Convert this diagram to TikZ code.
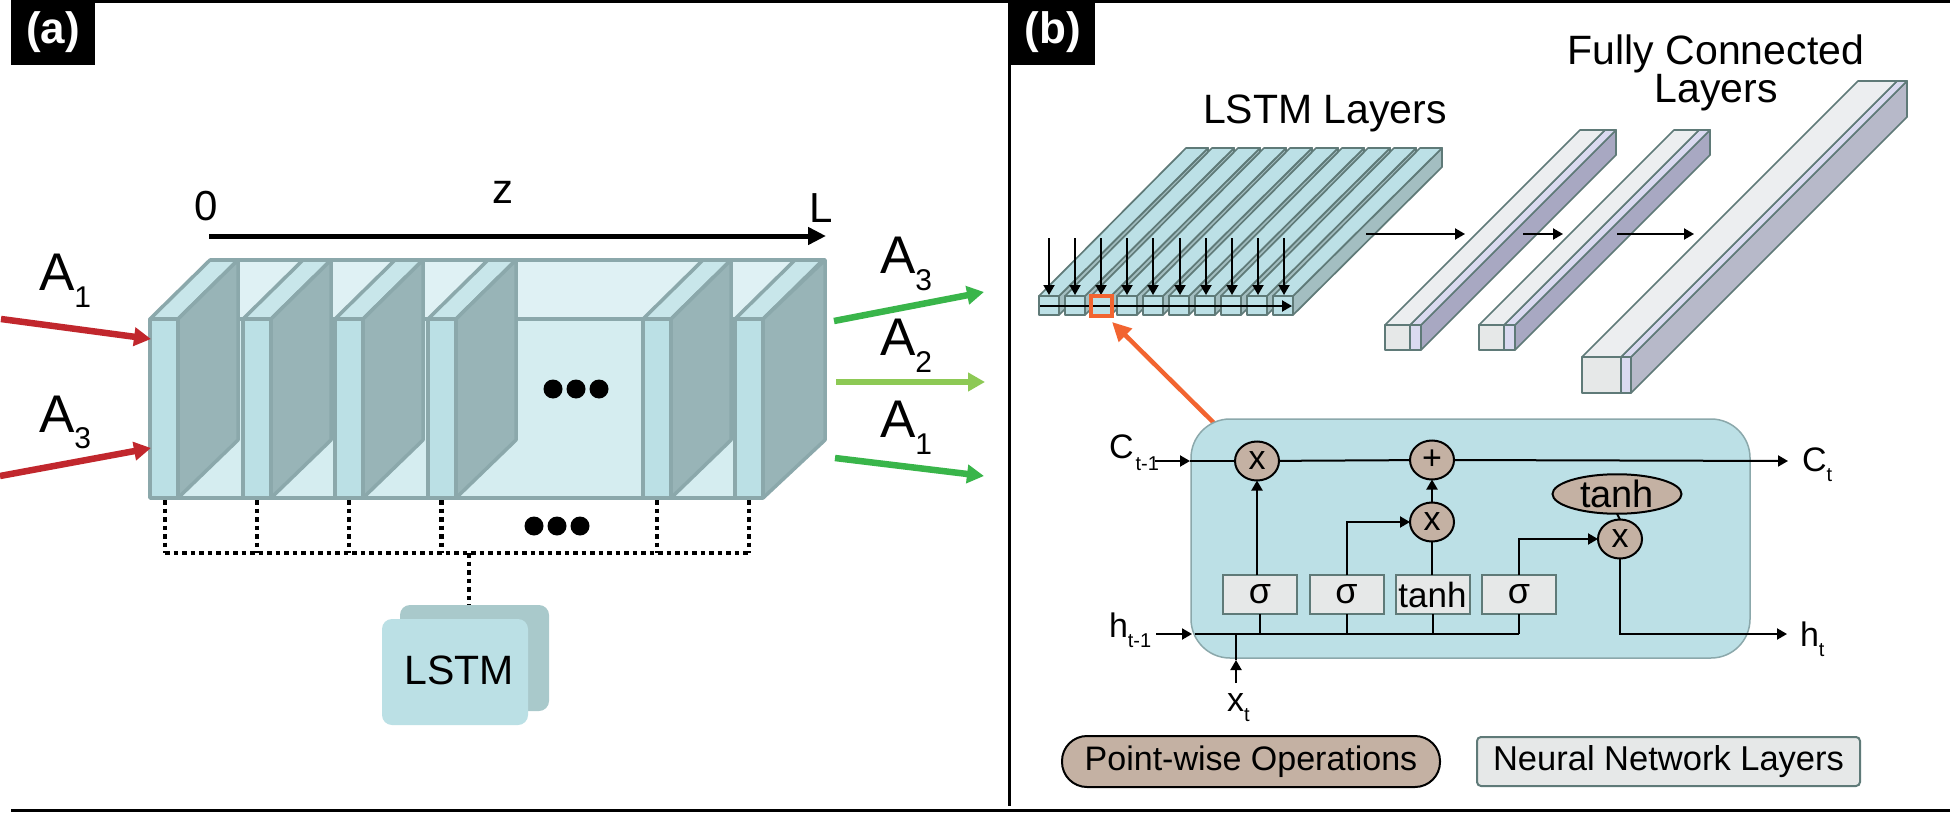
\documentclass[tikz,border=0pt]{standalone}
\usepackage{fontspec}
\setmainfont{Liberation Sans}
\usetikzlibrary{arrows.meta,shapes.geometric}
\newcommand{\fsz}[1]{\fontsize{#1}{#1}\selectfont}
\newcommand{\sublab}[5]{\fsz{#1}#2\fsz{#3}\raisebox{-#5pt}{#4}}
\definecolor{wallc}{HTML}{D5EDF0}
\definecolor{ceilc}{HTML}{DFF1F4}
\definecolor{stripc}{HTML}{BBE0E5}
\definecolor{striptop}{HTML}{C8E6EA}
\definecolor{panelc}{HTML}{98B4B7}
\definecolor{edgec}{HTML}{8BA8AB}
\definecolor{redc}{HTML}{C1272D}
\definecolor{greenc}{HTML}{39B54A}
\definecolor{lgreenc}{HTML}{8DC955}
\definecolor{blockedge}{HTML}{5F7A78}
\definecolor{blockside}{HTML}{A3BEC1}
\definecolor{beamtop}{HTML}{ECEEF0}
\definecolor{beamlav}{HTML}{DADAF0}
\definecolor{beamside}{HTML}{A8A8C2}
\definecolor{beamsideb}{HTML}{B7B9C9}
\definecolor{opc}{HTML}{C4B1A3}
\definecolor{nnc}{HTML}{E6E8E8}
\definecolor{orangec}{HTML}{F26430}
\definecolor{cellc}{HTML}{BCE0E6}
\definecolor{cardb}{HTML}{A9C9CB}
\tikzset{
  lab/.style={inner sep=0,outer sep=0,anchor=base west},
  ctext/.style={inner sep=0,outer sep=0,anchor=center},
  face/.style={draw=edgec,line width=3.5,line join=round},
  blk/.style={draw=blockedge,line width=1.7,line join=round},
  beam/.style={draw=blockedge,line width=1.7,line join=round},
  bigarrow/.style={line width=6.5,-{Triangle[length=17,width=18]}},
  thinarrow/.style={draw=black,line width=2,-{Triangle[length=10,width=11]}},
  cellline/.style={draw=black,line width=2},
  cellarrow/.style={cellline,-{Triangle[length=10,width=11]}},
  opnode/.style={ellipse,draw=black,line width=2,fill=opc,inner sep=0,outer sep=0,minimum width=44,minimum height=39},
  nnbox/.style={rectangle,draw=blockedge,line width=2,fill=nnc,inner sep=0,outer sep=0,minimum width=74,minimum height=39},
  dotline/.style={draw=black,line width=4.5,dash pattern=on 4.5 off 4},
  ell/.style={circle,fill=black,inner sep=0,minimum size=19},
  tag/.style={fill=black,text=white,font=\fsz{44}\bfseries,inner sep=0,outer sep=0,minimum width=84,minimum height=65}
}
\begin{document}
\begin{tikzpicture}[x=1pt,y=-1pt]
\useasboundingbox (0,0) rectangle (1950,813);
\fill[white] (0,0) rectangle (1950,813);
% frame
\coordinate (tl) at (11,1.5); \coordinate (tr) at (1950,1.5);
\coordinate (bl) at (11,810); \coordinate (br) at (1950,810);
\coordinate (dt) at (1009,0); \coordinate (db) at (1009,806);
\draw[line width=3] (tl)--(tr);
\draw[line width=3] (bl)--(br);
\draw[line width=3] (dt)--(db);
\node[tag] (taga) at (53,32.5) {(a)};
\node[tag] (tagb) at (1053,32.5) {(b)};
% ---------- panel a: waveguide
\fill[ceilc] (150,319)--(210,260)--(825,260)--(763,319)--cycle;
\fill[wallc] (150,319) rectangle (763,498);
\draw[face] (210,260)--(825,260);
\foreach \x in {150,243,335,428,643,735}{
  \filldraw[face,fill=striptop] (\x,319)--({\x+60},260)--({\x+88},260)--({\x+28},319)--cycle;
}
\draw[face] (150,319)--(763,319);
\foreach \x in {150,243,335,428,643}{
  \filldraw[face,fill=panelc] ({\x+28},319)--({\x+88},260)--({\x+88},440)--({\x+28},498)--cycle;
  \filldraw[face,fill=stripc] (\x,319) rectangle ({\x+28},498);
}
\filldraw[face,fill=panelc] (763,319)--(825,260)--(825,440)--(763,498)--cycle;
\filldraw[face,fill=stripc] (735,319) rectangle (763,498);
\draw[face] (150,498)--(763,498);
\foreach \x/\n in {553/a,576/b,599/c}{\node[ell] (up\n) at (\x,389) {};}
\foreach \x/\n in {534/a,557/b,580/c}{\node[ell] (lo\n) at (\x,526) {};}
% dotted bus
\foreach \x/\n in {165/a,257/b,349/c,441.5/d,657/e,749/f}{
  \coordinate (bt\n) at (\x,500); \coordinate (bb\n) at (\x,553);
  \draw[dotline] (bt\n)--(bb\n);
}
\draw[dotline] (bba)--(bbf);
% LSTM cards
\node[fill=cardb,rounded corners=10,minimum width=149,minimum height=106,inner sep=0] (cardback) at (474.5,658) {};
\node[fill=stripc,rounded corners=10,minimum width=146,minimum height=106,inner sep=0] (card) at (455,672) {};
\node[ctext,font=\fsz{41}] (cardtext) at (459,670) {LSTM};
\coordinate (busc) at (469,553);
\draw[dotline] (busc)--(busc |- cardback.north);
% axis
\node[ctext,font=\fsz{42}] (zero) at (206,206) {0};
\node[ctext,font=\fsz{42}] (zed) at (503,192) {z};
\node[ctext,font=\fsz{42}] (ell) at (821,208) {L};
\coordinate (ax0) at (209,236); \coordinate (ax1) at (826,236);
\draw[line width=5,-{Triangle[length=18,width=17]}] (ax0)--(ax1);
% input / output arrows
\node[lab] (ia1) at (39,290) {\sublab{53}{A}{30}{1}{17}};
\node[lab] (ia3) at (39,432) {\sublab{53}{A}{30}{3}{16}};
\node[lab] (oa3) at (880,273) {\sublab{53}{A}{30}{3}{17}};
\node[lab] (oa2) at (880,355) {\sublab{53}{A}{30}{2}{17}};
\node[lab] (oa1) at (880,437) {\sublab{53}{A}{30}{1}{17}};
\coordinate (r1s) at (1,319); \coordinate (r1e) at (151,339);
\coordinate (r2s) at (0,476); \coordinate (r2e) at (151,448);
\coordinate (g1s) at (834,321); \coordinate (g1e) at (984,292);
\coordinate (g2s) at (836,382); \coordinate (g2e) at (985,382);
\coordinate (g3s) at (835,458); \coordinate (g3e) at (984,476);
\draw[bigarrow,redc] (r1s)--(r1e);
\draw[bigarrow,redc] (r2s)--(r2e);
\draw[bigarrow,greenc] (g1s)--(g1e);
\draw[bigarrow,lgreenc] (g2s)--(g2e);
\draw[bigarrow,greenc] (g3s)--(g3e);
% ---------- panel b: LSTM layers
\node[ctext,font=\fsz{41}] (lstmt) at (1325,113) {LSTM Layers};
\node[lab,font=\fsz{41},anchor=base] (fct1) at (1716,65) {Fully Connected};
\node[lab,font=\fsz{41},anchor=base] (fct2) at (1716,103) {Layers};
\foreach \x in {1039,1065,1091,1117,1143,1169,1195,1221,1247,1273}{
  \filldraw[blk,fill=blockside] ({\x+20},296)--({\x+169},148)--({\x+169},167)--({\x+20},315)--cycle;
  \filldraw[blk,fill=cellc] (\x,296)--({\x+147},148)--({\x+169},148)--({\x+20},296)--cycle;
  \filldraw[blk,fill=cellc] (\x,296) rectangle ({\x+20},315);
}
\foreach \x in {1049,1075,1101,1127,1153,1180,1206,1232,1258,1284}{
  \coordinate (dn\x) at (\x,238); \coordinate (de\x) at (\x,295);
  \draw[thinarrow] (dn\x)--(de\x);
}
\coordinate (rows) at (1040,306); \coordinate (rowe) at (1292,306);
\draw[thinarrow] (rows)--(rowe);
\node[draw=orangec,line width=3.5,minimum width=21,minimum height=20,inner sep=0,outer sep=0] (hot) at (1101.5,306) {};
% fully connected beams
\foreach \l/\m/\r/\t/\b/\d/\c in {1385/1410/1421/325/350/195/beamside,1479/1504/1515/325/350/195/beamside,1582/1621/1631/357/393/276/beamsideb}{
  \filldraw[beam,fill=\c] (\r,\t)--({\r+\d},{\t-\d})--({\r+\d},{\b-\d})--(\r,\b)--cycle;
  \filldraw[beam,fill=beamlav] (\m,\t)--({\m+\d},{\t-\d})--({\r+\d},{\t-\d})--(\r,\t)--cycle;
  \filldraw[beam,fill=beamtop] (\l,\t)--({\l+\d},{\t-\d})--({\m+\d},{\t-\d})--(\m,\t)--cycle;
  \filldraw[beam,fill=nnc] (\l,\t) rectangle (\m,\b);
  \filldraw[beam,fill=beamlav] (\m,\t) rectangle (\r,\b);
}
\coordinate (f1s) at (1366,234); \coordinate (f1e) at (1465,234);
\coordinate (f2s) at (1523,234); \coordinate (f2e) at (1563,234);
\coordinate (f3s) at (1617,234); \coordinate (f3e) at (1694,234);
\draw[thinarrow] (f1s)--(f1e);
\draw[thinarrow] (f2s)--(f2e);
\draw[thinarrow] (f3s)--(f3e);
% orange pointer
\coordinate (pt0) at (1215,424);
\coordinate (pt1) at (1112,322);
\draw[draw=orangec,line width=4.5,-{Triangle[length=19,width=18]}] (pt0)--(pt1);
% ---------- LSTM cell
\node[draw=edgec,line width=1.5,fill=cellc,rounded corners=39,minimum width=559,minimum height=239,inner sep=0,outer sep=0] (cell) at (1470.5,538.5) {};
\node[opnode,font=\fsz{34}] (x1) at (1257,461) {x};
\node[opnode,font=\fsz{34}] (pl) at (1432,460) {+};
\node[opnode,font=\fsz{34}] (x2) at (1432,522) {x};
\node[opnode,font=\fsz{34}] (x3) at (1620,539) {x};
\node[opnode,font=\fsz{38},minimum width=129,minimum height=38] (th) at (1617,494) {tanh};
\node[nnbox,font=\fsz{36}] (s1) at (1260,594.5) {σ};
\node[nnbox,font=\fsz{36}] (s2) at (1346.5,594.5) {σ};
\node[nnbox,font=\fsz{35}] (s3) at (1432.5,594.5) {tanh};
\node[nnbox,font=\fsz{36}] (s4) at (1519,594.5) {σ};
\coordinate (cin) at (1155,461); \coordinate (cine) at (1190,461);
\coordinate (cout) at (1788,461);
\coordinate (hin) at (1156,634); \coordinate (hine) at (1192,634);
\coordinate (hb0) at (1195,634); \coordinate (hb1) at (1519,634);
\coordinate (hout) at (1787,634);
\coordinate (xs) at (1236,683); \coordinate (xm) at (1236,660); \coordinate (xe) at (1236,634);
\draw[cellarrow] (cin)--(cine);
\draw[cellline] (cine)--(x1);
\draw[cellline] (x1)--(pl);
\draw[cellarrow] (pl.east)--(cout);
\draw[cellarrow] (hin)--(hine);
\draw[cellline] (hb0)--(hb1);
\draw[cellarrow] (s1.north -| x1.south)--(x1.south);
\draw[cellline] (s1.south)--(s1.south |- hb0);
\draw[cellline] (s2.south)--(s2.south |- hb0);
\draw[cellline] (s3.south)--(s3.south |- hb0);
\draw[cellline] (s4.south)--(s4.south |- hb0);
\draw[cellarrow] (s2.north) |- (x2.west);
\draw[cellline] (s3.north -| x2.south)--(x2.south);
\draw[cellarrow] (x2.north)--(pl.south);
\draw[cellarrow] (s4.north) |- (x3.west);
\draw[cellline] (x3.north)--(th.south);
\draw[cellarrow] (x3.south) |- (hout);
\draw[cellarrow] (xs)--(xm);
\draw[cellline] (xm)--(xe);
\node[lab] (cm) at (1109,458) {\sublab{34}{C}{20}{\kern2pt t-1}{12}};
\node[lab] (hm) at (1109,637) {\sublab{34}{h}{20}{t-1}{10}};
\node[lab] (ct) at (1802,471) {\sublab{34}{C}{20}{t}{10}};
\node[lab] (ht) at (1800,646) {\sublab{34}{h}{20}{t}{10}};
\node[lab] (xt) at (1227,711) {\sublab{34}{x}{20}{t}{10}};
% legend
\node[draw=black,line width=2,fill=opc,rounded corners=25,minimum width=378,minimum height=51,inner sep=0,outer sep=0,font=\fsz{34}] (lega) at (1251,761.5) {Point-wise Operations};
\node[draw=blockedge,line width=2,fill=nnc,rounded corners=4,minimum width=383,minimum height=49,inner sep=0,outer sep=0,font=\fsz{34.5}] (legb) at (1668.5,761.5) {Neural Network Layers};
\end{tikzpicture}
\end{document}
